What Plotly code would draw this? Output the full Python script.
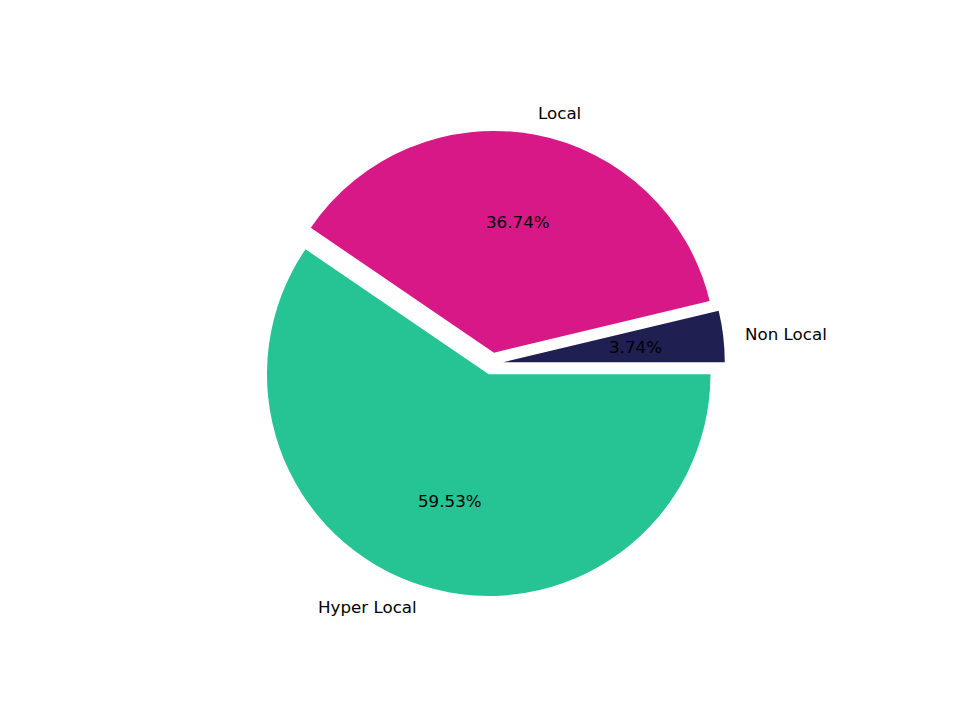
import numpy as np
import plotly.graph_objects as go

labels = ["Non Local", "Local", "Hyper Local"]
values = [3.74, 36.74, 59.53]
colors = ["#1f1f52", "#d81886", "#26c495"]
pulls = [0.05, 0.05, 0.05]

W, H = 960, 720
PAGE_MARGIN = 8        # default html body margin around the plot div
R = 221.76             # pie radius in px
CX, CY = 492.0 - PAGE_MARGIN, 363.6 - PAGE_MARGIN  # pie centre in px
FONT = dict(family="DejaVu Sans", size=16.7, color="black")

half = R * (1 + max(pulls))
domain_x = [(CX - half) / W, (CX + half) / W]
domain_y = [1 - (CY + half) / H, 1 - (CY - half) / H]

vals = np.array(values)
fr = vals / vals.sum()
ends = np.cumsum(fr) * 2 * np.pi
starts = ends - fr * 2 * np.pi
mids = (starts + ends) / 2

# plotly's counterclockwise mode anchors the end of the first slice at `rotation`
rotation = 90 - fr[0] * 360

fig = go.Figure(go.Pie(
    labels=labels, values=values, sort=False,
    direction="counterclockwise", rotation=rotation,
    pull=pulls, marker=dict(colors=colors, line=dict(width=0)),
    textinfo="none", hoverinfo="label+percent",
    domain=dict(x=domain_x, y=domain_y), showlegend=False,
))

annotations = []
for lab, v, m, p in zip(labels, values, mids, pulls):
    ox, oy = p * np.cos(m), p * np.sin(m)
    # label at 1.1 r
    lx, ly = ox + 1.1 * np.cos(m), oy + 1.1 * np.sin(m)
    annotations.append(dict(
        x=(CX + lx * R) / W, y=1 - (CY - ly * R) / H, xref="paper", yref="paper",
        text=lab, showarrow=False, xanchor="left" if lx > 0 else "right",
        yanchor="middle", font=FONT, borderpad=0, borderwidth=0))
    # percent at 0.6 r
    tx, ty = ox + 0.6 * np.cos(m), oy + 0.6 * np.sin(m)
    annotations.append(dict(
        x=(CX + tx * R) / W, y=1 - (CY - ty * R) / H, xref="paper", yref="paper",
        text=f"{v:.2f}%", showarrow=False, xanchor="center",
        yanchor="middle", font=FONT, borderpad=0, borderwidth=0))

fig.update_layout(
    width=W, height=H, margin=dict(l=0, r=0, t=0, b=0),
    paper_bgcolor="white", plot_bgcolor="white",
    annotations=annotations, font=FONT,
)

fig.write_html("out.html")
